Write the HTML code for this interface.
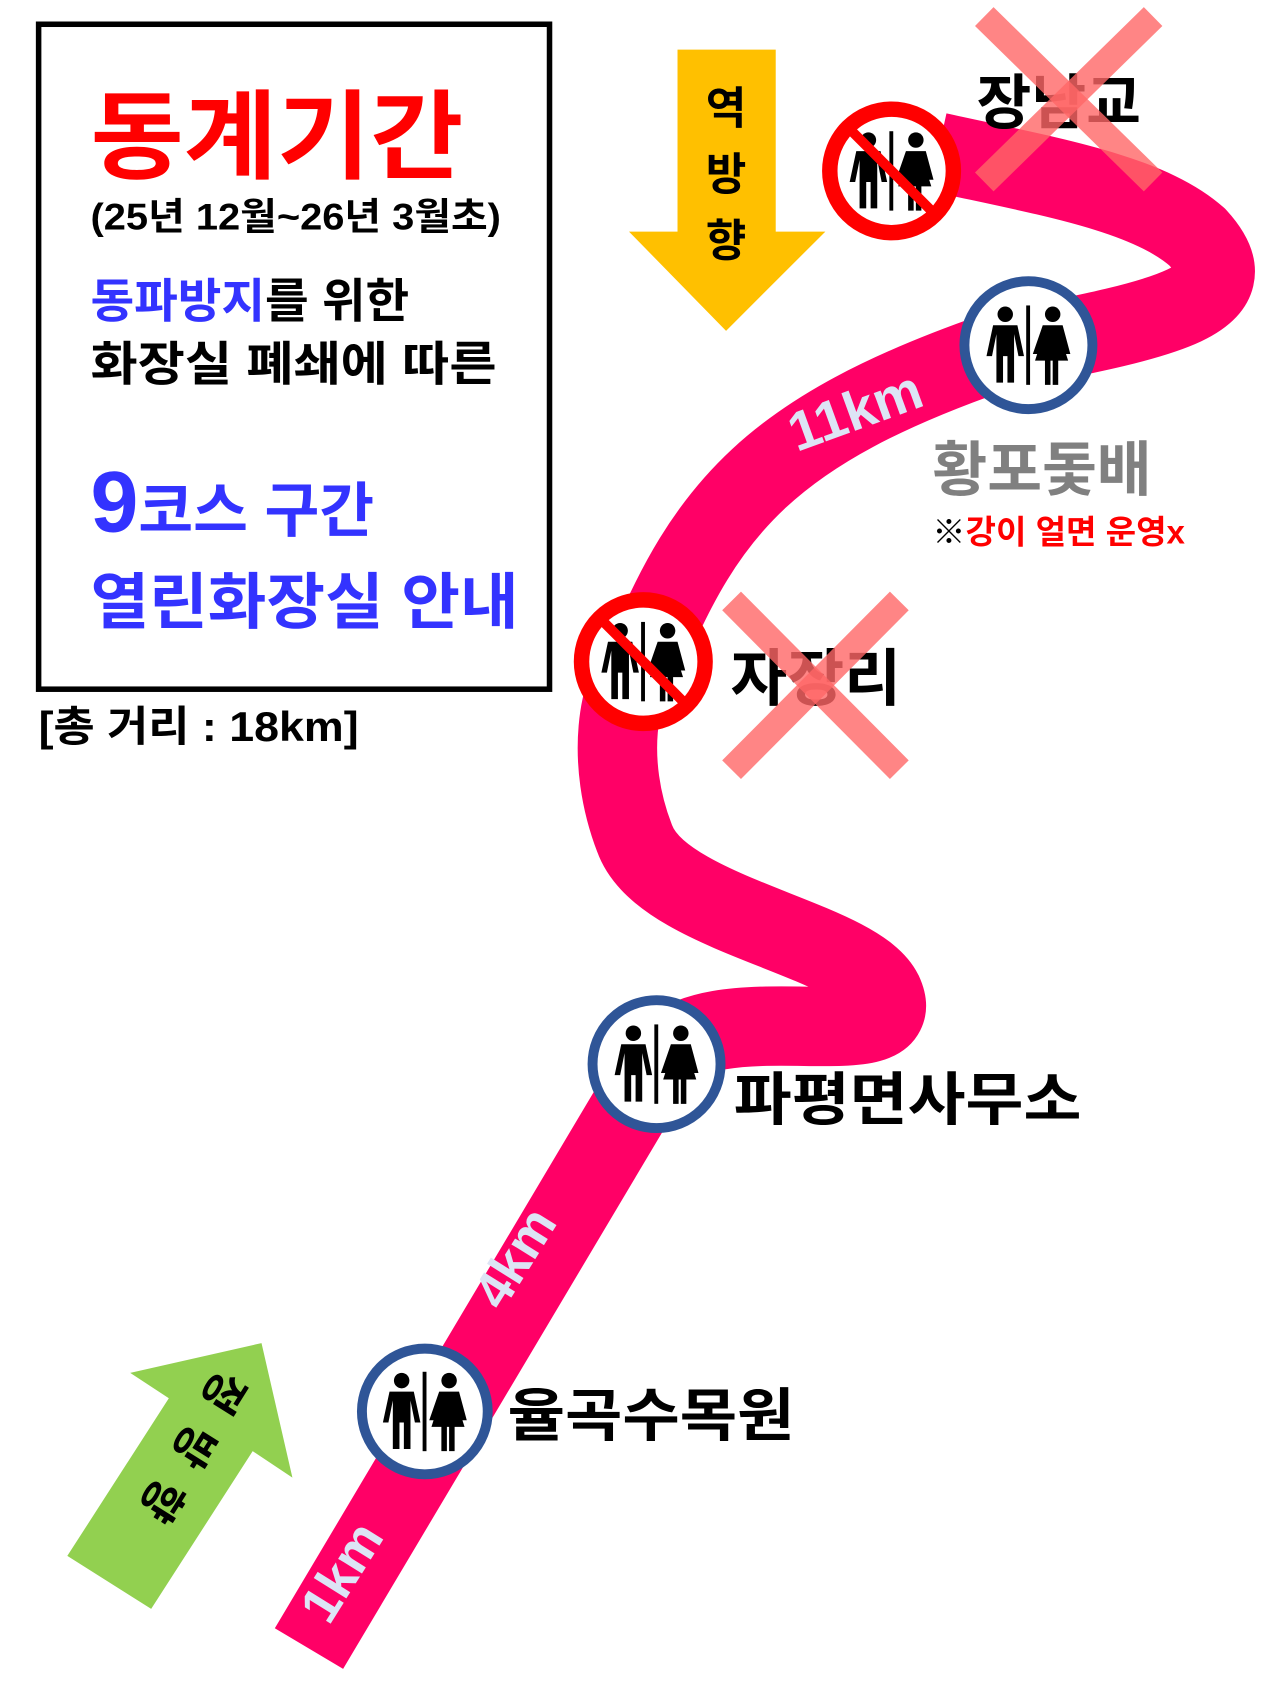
<!DOCTYPE html>
<html><head><meta charset="utf-8"><style>
html,body{margin:0;padding:0;background:#fff;}
svg{display:block;}
text{font-family:"Liberation Sans","Noto Sans CJK KR",sans-serif;font-weight:bold;}
</style></head><body>
<svg width="1280" height="1707" viewBox="0 0 1160 1548" preserveAspectRatio="none" xmlns="http://www.w3.org/2000/svg">
<defs>
<g id="wc">
  <circle cx="-21" cy="-28" r="7" fill="#000"/>
  <path d="M-32,-18 h22 l6,28 h-5 l-4,-20 v44 h-6 v-24 h-4 v24 h-6 v-44 l-4,20 h-5 z" fill="#000"/>
  <rect x="-2" y="-36" width="3.5" height="72" fill="#000"/>
  <circle cx="22" cy="-28" r="7" fill="#000"/>
  <path d="M13,-18 h18 l7,26 h-5 l-4,-16 l7,22 h-9 v22 h-5 v-22 h-2 v22 h-5 v-22 h-9 l7,-22 l-4,16 h-5 z" fill="#000"/>
</g>
</defs>
<rect width="1160" height="1548" fill="#fff"/>
<!-- road -->
<path d="M280,1495 L595,965 C640,895 830,965 800,900 C775,850 600,830 575,760 C548,690 560,620 583,600 C640,460 700,390 900,320 C1050,290 1140,275 1085,215 C1040,175 950,160 850,138" fill="none" stroke="#ff0066" stroke-width="72"/>
<!-- km labels -->
<text x="0" y="0" font-size="48" fill="#dde4f5" transform="translate(298,1475) rotate(-58)">1km</text>
<text x="0" y="0" font-size="48" fill="#dde4f5" transform="translate(455,1190) rotate(-58)">4km</text>
<text x="0" y="0" font-size="50" fill="#dde4f5" transform="translate(722,410) rotate(-20)">11km</text>
<!-- info box -->
<rect x="35" y="22" width="463" height="603" fill="#fff" stroke="#000" stroke-width="5"/>
<text x="82" y="155" font-size="88" fill="#ff0000" textLength="338" lengthAdjust="spacingAndGlyphs">동계기간</text>
<text x="82" y="208" font-size="34" fill="#000" textLength="372" lengthAdjust="spacingAndGlyphs">(25년 12월~26년 3월초)</text>
<text x="82" y="288" font-size="43" fill="#3333ff">동파방지<tspan fill="#000">를 위한</tspan></text>
<text x="82" y="345" font-size="43" fill="#000" textLength="368" lengthAdjust="spacingAndGlyphs">화장실 폐쇄에 따른</text>
<text x="82" y="482" font-size="78" fill="#3333ff">9<tspan font-size="54">코스 구간</tspan></text>
<text x="82" y="565" font-size="55" fill="#3333ff" textLength="388" lengthAdjust="spacingAndGlyphs">열린화장실 안내</text>
<text x="35" y="672" font-size="38" fill="#000" textLength="290" lengthAdjust="spacingAndGlyphs">[총 거리 : 18km]</text>
<!-- yellow arrow -->
<polygon points="614,45 703,45 703,210 748,210 658,300 570,210 614,210" fill="#ffc000"/>
<text x="658" y="112" font-size="40" fill="#000" text-anchor="middle">역</text>
<text x="658" y="172" font-size="40" fill="#000" text-anchor="middle">방</text>
<text x="658" y="232" font-size="40" fill="#000" text-anchor="middle">향</text>
<!-- green arrow -->
<polygon points="237,1218 265,1340 229,1316 137,1459 61,1411 153,1268 118,1245" fill="#92d050"/>
<g font-size="40" fill="#000">
<text text-anchor="middle" dominant-baseline="central" transform="translate(202,1262) rotate(122)">정</text>
<text text-anchor="middle" dominant-baseline="central" transform="translate(175,1311) rotate(122)">방</text>
<text text-anchor="middle" dominant-baseline="central" transform="translate(146,1360) rotate(122)">향</text>
</g>
<!-- labels -->
<text x="885" y="112" font-size="54" fill="#000">장남교</text>
<text x="845" y="445" font-size="54" fill="#808080">황포돛배</text>
<text x="845" y="493" font-size="30" fill="#000">※<tspan fill="#ff0000">강이 얼면 운영x</tspan></text>
<text x="662" y="635" font-size="56" fill="#000">자장리</text>
<text x="665" y="1015" font-size="52" fill="#000" textLength="315" lengthAdjust="spacingAndGlyphs">파평면사무소</text>
<text x="460" y="1302" font-size="52" fill="#000" textLength="260" lengthAdjust="spacingAndGlyphs">율곡수목원</text>
<!-- X marks -->
<g stroke="#ff6666" stroke-opacity="0.8" stroke-width="24">
<line x1="892" y1="15" x2="1045" y2="165"/><line x1="1045" y1="15" x2="892" y2="165"/>
<line x1="663" y1="545" x2="815" y2="698"/><line x1="815" y1="545" x2="663" y2="698"/>
</g>
<!-- no-toilet circles -->
<g transform="translate(808,155)">
  <circle r="56" fill="#fff" stroke="#ff0000" stroke-width="14"/>
  <use href="#wc"/>
  <line x1="-36" y1="-36" x2="36" y2="36" stroke="#ff0000" stroke-width="9"/>
</g>
<g transform="translate(583,600)">
  <circle r="56" fill="#fff" stroke="#ff0000" stroke-width="14"/>
  <use href="#wc"/>
  <line x1="-36" y1="-36" x2="36" y2="36" stroke="#ff0000" stroke-width="9"/>
</g>
<!-- toilet circles -->
<g transform="translate(932,313)"><circle r="58" fill="#fff" stroke="#2f5597" stroke-width="9"/><use href="#wc"/></g>
<g transform="translate(595,965)"><circle r="58" fill="#fff" stroke="#2f5597" stroke-width="9"/><use href="#wc"/></g>
<g transform="translate(385,1280)"><circle r="57" fill="#fff" stroke="#2f5597" stroke-width="9"/><use href="#wc"/></g>
</svg>
</body></html>
